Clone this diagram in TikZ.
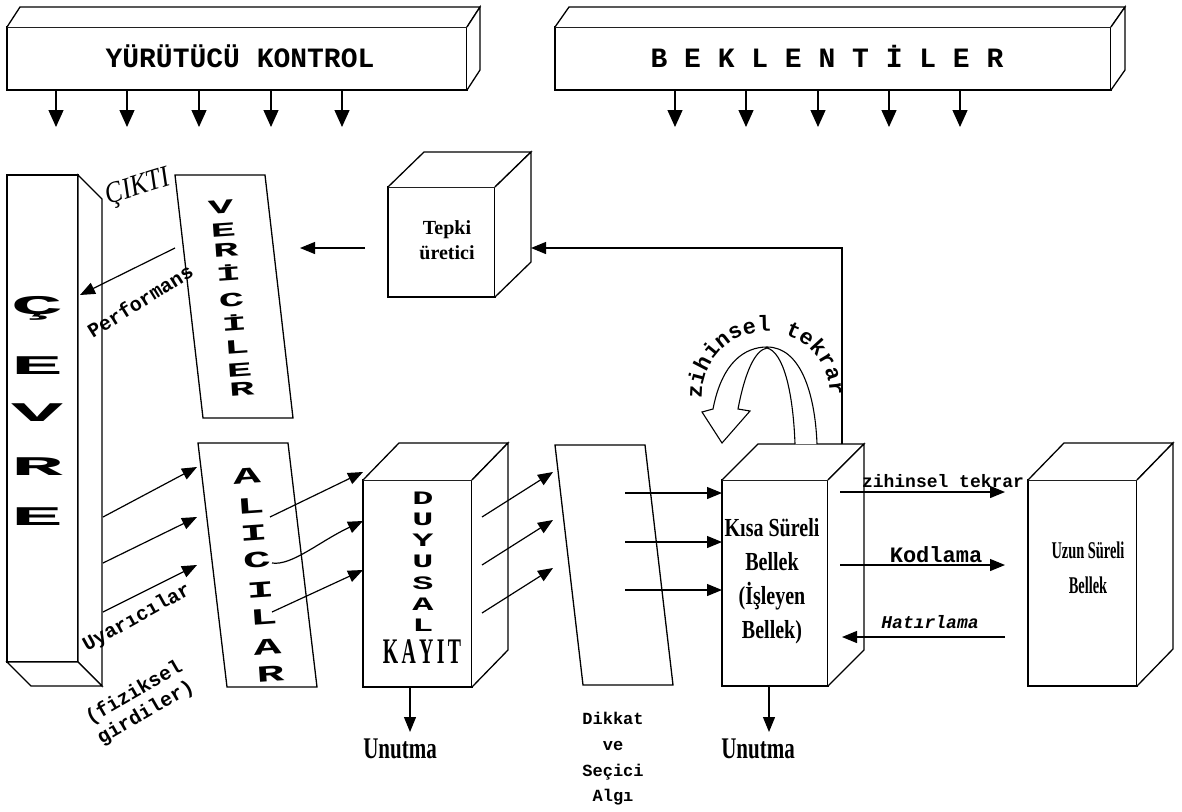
\documentclass[tikz,border=0pt]{standalone}
\usepackage{graphicx}
\usepackage{fontspec}
\setmainfont{Liberation Serif}
\newfontfamily\monof{Liberation Mono}
\usetikzlibrary{arrows.meta,decorations.text,calc}

\newcommand\tw[1]{\monof\bfseries\fontsize{#1}{#1}\selectfont}
\newcommand\stretchlet[3]{\scalebox{#1}[1]{\monof\bfseries\fontsize{#2}{#2}\selectfont #3}}

\tikzset{
  face/.style={draw, line width=1.3pt, line join=miter, fill=white},
  cubefront/.style={draw, line width=1.3pt, inner sep=0pt, outer sep=0pt, fill=white},
  arr/.style={line width=1.2pt, -{Triangle[length=15pt,width=12pt]}},
  bigarr/.style={line width=1.3pt, -{Triangle[length=17pt,width=15pt]}},
  lbl/.style={inner sep=0pt, outer sep=0pt, align=center},
}

\begin{document}
\begin{tikzpicture}[x=1pt,y=-1pt]
\path[fill=white] (0,0) rectangle (1182,811);
\useasboundingbox (0,0) rectangle (1182,811);

% ---------- top boxes ----------
\node[cubefront, minimum width=460pt, minimum height=63pt] (yk) at (237,58.5) {};
\draw[face] (yk.north west) -- ++(13,-20) -- ($(yk.north east)+(13,-20)$) -- (yk.north east);
\draw[face] (yk.north east) -- ++(13,-20) -- ($(yk.south east)+(13,-20)$) -- (yk.south east);
\node[lbl] (ykt) at (240,56) {\tw{28}YÜRÜTÜCÜ KONTROL};

\node[cubefront, minimum width=556pt, minimum height=63pt] (bek) at (833,58.5) {};
\draw[face] (bek.north west) -- ++(14,-20) -- ($(bek.north east)+(14,-20)$) -- (bek.north east);
\draw[face] (bek.north east) -- ++(14,-20) -- ($(bek.south east)+(14,-20)$) -- (bek.south east);
\node[lbl] (bekt) at (827,56) {\tw{28}B E K L E N T İ L E R};

\foreach \x [count=\i] in {56,127,199,271,342} {
  \coordinate (yks\i) at (\x,90); \coordinate (yke\i) at (\x,127);
  \draw[bigarr] (yks\i) -- (yke\i);
}
\foreach \x [count=\i] in {675,746,818,889,960} {
  \coordinate (bks\i) at (\x,90); \coordinate (bke\i) at (\x,127);
  \draw[bigarr] (bks\i) -- (bke\i);
}

% ---------- ÇEVRE ----------
\draw[face] (7,175) rectangle (78,662);
\draw[face] (78,175) -- (102,199) -- (102,686) -- (78,662) -- cycle;
\draw[face] (7,662) -- (31,686) -- (102,686) -- (78,662) -- cycle;
\foreach \L/\y [count=\k] in {Ç/308,E/366,V/413,R/467,E/517} {
  \node[lbl] (cev\k) at (37,\y) {\stretchlet{3.2}{27}{\L}};
}

\node[lbl, rotate=17] (cikti) at (138,188) {\scalebox{0.85}[1]{\itshape\fontsize{30}{30}\selectfont ÇIKTI}};

% ---------- VERİCİLER ----------
\draw[face] (175,175) -- (265,175) -- (293,418) -- (203,418) -- cycle;
\foreach \L/\y [count=\k] in {V/207,E/230,R/250,İ/273,C/300,İ/323,L/347,E/370,R/389} {
  \node[lbl, rotate=4] (ver\k) at ({217+(\y-175)*28/243},\y) {\stretchlet{2.1}{20}{\L}};
}

\coordinate (pf1) at (175,248); \coordinate (pf2) at (80,295);
\draw[arr] (pf1) -- (pf2);
\node[lbl, rotate=32] (perf) at (140,301) {\tw{20}Performans};

% ---------- Tepki üretici ----------
\node[cubefront, minimum width=107pt, minimum height=110pt] (tepki) at (441.5,242) {};
\draw[face] (tepki.north west) -- ++(36,-35) -- ($(tepki.north east)+(36,-35)$) -- (tepki.north east);
\draw[face] (tepki.north east) -- ++(36,-35) -- ($(tepki.south east)+(36,-35)$) -- (tepki.south east);
\node[lbl, font=\bfseries\fontsize{20}{25}\selectfont] (tepkit) at (447,240) {Tepki\\üretici};
\coordinate (tl1) at (365,248); \coordinate (tl2) at (300,248);
\draw[arr] (tl1) -- (tl2);

% ---------- ALICILAR ----------
\draw[face] (198,443) -- (288,443) -- (317,687) -- (227,687) -- cycle;
\foreach \L/\y [count=\k] in {A/476,L/506,I/533,C/560,I/590,L/617,A/647,R/674} {
  \node[lbl, rotate=4] (ali\k) at ({243+(\y-443)*29/244},\y) {\stretchlet{2.0}{23}{\L}};
}

\coordinate (ca1) at (103,517); \coordinate (cb1) at (197,467);
\coordinate (ca2) at (103,563); \coordinate (cb2) at (197,517);
\coordinate (ca3) at (103,612); \coordinate (cb3) at (197,565);
\foreach \i in {1,2,3} { \draw[arr] (ca\i) -- (cb\i); }
\node[lbl, rotate=29] (uyar) at (137,618) {\tw{20}Uyarıcılar};
\node[lbl, rotate=30, align=left, font=\monof\bfseries\fontsize{20}{23}\selectfont] (fiz) at (140,703) {(fiziksel\\girdiler)};

% ---------- DUYUSAL KAYIT ----------
\node[cubefront, minimum width=109pt, minimum height=207pt] (duy) at (417.5,583.5) {};
\draw[face] (duy.north west) -- ++(36,-37) -- ($(duy.north east)+(36,-37)$) -- (duy.north east);
\draw[face] (duy.north east) -- ++(36,-37) -- ($(duy.south east)+(36,-37)$) -- (duy.south east);
\foreach \L/\y [count=\k] in {D/498,U/519,Y/540,U/561,S/583,A/604,L/625} {
  \node[lbl] (duyl\k) at (423,\y) {\stretchlet{1.85}{19}{\L}};
}
\node[lbl] (kayit) at (422,652) {\scalebox{0.55}[1]{\bfseries\fontsize{36}{36}\selectfont K\hspace{6pt}A\hspace{6pt}Y\hspace{6pt}I\hspace{6pt}T}};

\coordinate (ad1) at (270,517); \coordinate (ae1) at (363,472);
\coordinate (ad2) at (272,563); \coordinate (ae2) at (363,521);
\coordinate (ad3) at (272,612); \coordinate (ae3) at (363,570);
\draw[arr] (ad1) -- (ae1);
\draw[arr] (ad2) .. controls (292,566) and (320,541) .. (ae2);
\draw[arr] (ad3) -- (ae3);

\coordinate (u1a) at (410,687); \coordinate (u1b) at (410,732);
\draw[arr] (u1a) -- (u1b);
\node[lbl] (unut1) at (400,749) {\scalebox{0.7}[1]{\bfseries\fontsize{30}{30}\selectfont Unutma}};

% ---------- Dikkat ----------
\draw[face] (555,445) -- (645,445) -- (673,685) -- (583,685) -- cycle;
\node[lbl, font=\monof\bfseries\fontsize{17}{25.7}\selectfont] (dikt) at (613,759) {Dikkat\\ve\\Seçici\\Algı};

\coordinate (dd1) at (482,517); \coordinate (de1) at (553,472);
\coordinate (dd2) at (482,565); \coordinate (de2) at (553,520);
\coordinate (dd3) at (482,613); \coordinate (de3) at (553,568);
\foreach \i in {1,2,3} { \draw[arr] (dd\i) -- (de\i); }

% ---------- Kısa Süreli Bellek ----------
\node[cubefront, minimum width=106pt, minimum height=206pt] (ksb) at (775,583) {};
\draw[face] (ksb.north west) -- ++(36,-36) -- ($(ksb.north east)+(36,-36)$) -- (ksb.north east);
\draw[face] (ksb.north east) -- ++(36,-36) -- ($(ksb.south east)+(36,-36)$) -- (ksb.south east);
\node[lbl] (ksbt) at (772,581) {\scalebox{0.77}[1]{\bfseries\fontsize{26}{34}\selectfont\begin{tabular}{@{}c@{}}Kısa Süreli\\Bellek\\(İşleyen\\Bellek)\end{tabular}}};

\coordinate (ka1) at (625,493); \coordinate (kb1) at (722,493);
\coordinate (ka2) at (625,542); \coordinate (kb2) at (722,542);
\coordinate (ka3) at (625,590); \coordinate (kb3) at (722,590);
\foreach \i in {1,2,3} { \draw[arr] (ka\i) -- (kb\i); }

\coordinate (u2a) at (769,686); \coordinate (u2b) at (769,732);
\draw[arr] (u2a) -- (u2b);
\node[lbl] (unut2) at (758,749) {\scalebox{0.7}[1]{\bfseries\fontsize{30}{30}\selectfont Unutma}};

% ---------- Uzun Süreli Bellek ----------
\node[cubefront, minimum width=109pt, minimum height=206pt] (usb) at (1082.5,583) {};
\draw[face] (usb.north west) -- ++(36,-37) -- ($(usb.north east)+(36,-37)$) -- (usb.north east);
\draw[face] (usb.north east) -- ++(36,-37) -- ($(usb.south east)+(36,-37)$) -- (usb.south east);
\node[lbl] (usbt) at (1088,569) {\scalebox{0.6}[1]{\bfseries\fontsize{24}{35}\selectfont\begin{tabular}{@{}c@{}}Uzun Süreli\\Bellek\end{tabular}}};

\coordinate (zt1) at (840,492); \coordinate (zt2) at (1005,492);
\draw[arr] (zt1) -- (zt2);
\node[lbl] (ztl) at (943,481) {\tw{18}zihinsel tekrar};
\coordinate (ko1) at (840,565); \coordinate (ko2) at (1005,565);
\draw[arr] (ko1) -- (ko2);
\node[lbl] (kol) at (936,555) {\tw{22}Kodlama};
\coordinate (ha1) at (1005,637); \coordinate (ha2) at (842,637);
\draw[arr] (ha1) -- (ha2);
\node[lbl] (hal) at (930,622) {\tw{18}\itshape Hatırlama};

% ---------- feedback ----------
\coordinate (fb1) at (842,444); \coordinate (tepR) at (531,248);
\draw[arr] (fb1) |- (tepR);

% ---------- zihinsel tekrar loop ----------
\draw[line width=1.1pt, line join=miter, fill=white]
  (795,444) .. controls (793,390) and (783,352) .. (767,348)
  .. controls (755,350) and (745,372) .. (738,409)
  -- (750,411) -- (722,443) -- (702,412) -- (713,409)
  .. controls (722,362) and (745,347) .. (767,347)
  .. controls (800,347) and (815,392) .. (817,444);
\coordinate (zc) at (766,396);
\path[decorate, decoration={text along path, text align={fit to path},
   text={|\monof\bfseries\fontsize{22}{22}\selectfont|zihinsel tekrar}}]
   ($(zc)+(-64,3)$) arc[start angle=177, end angle=360, radius=64];
\end{tikzpicture}
\end{document}
